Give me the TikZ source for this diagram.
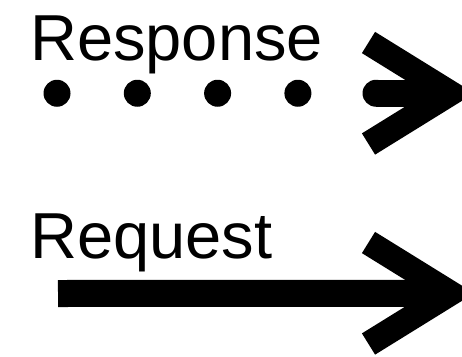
\documentclass[tikz,border=0pt]{standalone}
\usepackage{fontspec}
\setmainfont{Liberation Sans}
\begin{document}
\begin{tikzpicture}[x=1pt,y=-1pt,
  lbl/.style={anchor=base west,inner sep=0pt,font=\fontsize{65}{72}\selectfont},
  shaft/.style={line width=27pt,line cap=butt},
  dotline/.style={line width=27pt,line cap=round,dash pattern=on 0pt off 80.3pt},
  chevron/.style={line width=25pt,line join=miter,miter limit=10}]
\useasboundingbox (0,0) rectangle (462,356);
% Response
\node[lbl] (resp) at (30,60) {Response};
\coordinate (rs) at (57,93.25);
\coordinate (rd) at (378,93.25);
\coordinate (rb) at (376,93.25);
\coordinate (rt) at (450.5,93.25);
\coordinate (ru) at (368.5,42.5);
\coordinate (rl) at (368.5,144);
\draw[dotline] (rs) -- (rd);
\fill (rb) circle (13.5pt);
\draw[shaft] (rb) -- ([xshift=-10pt]rt);
\draw[chevron] (ru) -- (rt) -- (rl);
% Request
\node[lbl] (req) at (30,258) {Request};
\coordinate (qs) at (58,293.5);
\coordinate (qt) at (450.5,293.25);
\coordinate (qu) at (368.5,242.5);
\coordinate (ql) at (368.5,344);
\draw[shaft] (qs) -- ([xshift=-10pt]qt);
\draw[chevron] (qu) -- (qt) -- (ql);
\end{tikzpicture}
\end{document}
